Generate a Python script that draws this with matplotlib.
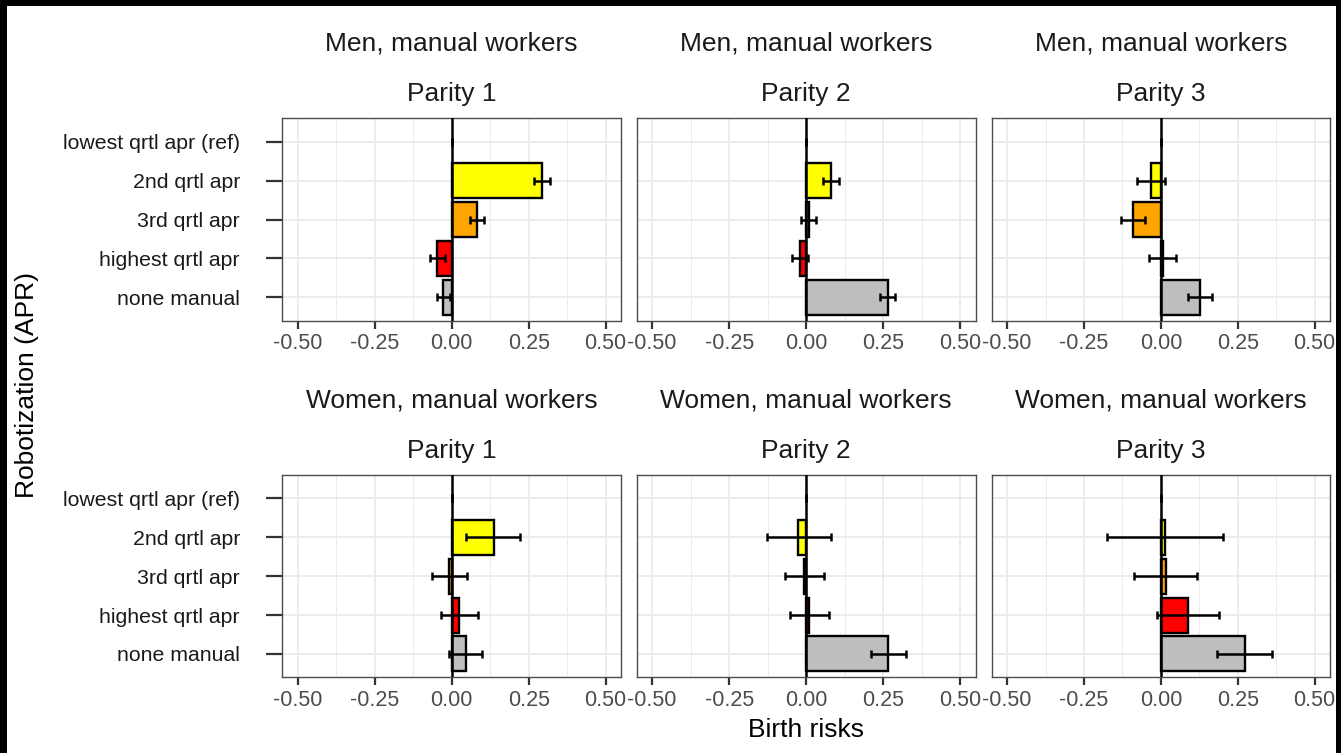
import numpy as np
import matplotlib
matplotlib.use("Agg")
import matplotlib.pyplot as plt
from matplotlib.patches import Rectangle
from matplotlib.ticker import FixedLocator

plt.rcParams["font.family"] = ["Liberation Sans", "DejaVu Sans"]

# categories, top to bottom
categories = ["lowest qrtl apr (ref)", "2nd qrtl apr", "3rd qrtl apr",
              "highest qrtl apr", "none manual"]
bar_colors = ["#FFFFFF", "#FFFF00", "#FFA500", "#FF0000", "#BEBEBE"]

row_titles = ["Men, manual workers", "Women, manual workers"]
parities = ["Parity 1", "Parity 2", "Parity 3"]

# estimates and confidence bounds, one list per parity
men_est = [[0, 0.295, 0.082, -0.048, -0.028],
           [0, 0.080, 0.010, -0.021, 0.266],
           [0, -0.033, -0.092, 0.007, 0.128]]
men_lo = [[0, 0.267, 0.059, -0.069, -0.047],
          [0, 0.053, -0.017, -0.046, 0.238],
          [0, -0.077, -0.128, -0.037, 0.088]]
men_hi = [[0, 0.320, 0.105, -0.022, -0.004],
          [0, 0.107, 0.033, 0.006, 0.289],
          [0, 0.015, -0.050, 0.048, 0.166]]

women_est = [[0, 0.136, -0.009, 0.025, 0.045],
             [0, -0.026, -0.006, 0.010, 0.267],
             [0, 0.015, 0.016, 0.089, 0.274]]
women_lo = [[0, 0.046, -0.065, -0.033, -0.009],
            [0, -0.128, -0.068, -0.053, 0.209],
            [0, -0.176, -0.087, -0.011, 0.181]]
women_hi = [[0, 0.221, 0.051, 0.085, 0.097],
            [0, 0.080, 0.058, 0.073, 0.323],
            [0, 0.203, 0.117, 0.190, 0.363]]

xticks = [-0.50, -0.25, 0.00, 0.25, 0.50]
xtick_labels = ["-0.50", "-0.25", "0.00", "0.25", "0.50"]

W, H = 1341, 753
fig = plt.figure(figsize=(W / 100, H / 100), dpi=100)
fig.patch.set_facecolor("black")
fig.add_artist(Rectangle((7 / W, 0), (1336 - 7) / W, 1 - 6 / H,
                         transform=fig.transFigure, facecolor="white",
                         edgecolor="none", zorder=-10))

col_x = [(282.3, 621.0), (636.7, 975.7), (991.7, 1330.0)]
row_y = [(118.3, 320.7), (475.0, 677.3)]

ypos = np.arange(len(categories))[::-1] + 1

data = [(men_est, men_lo, men_hi), (women_est, women_lo, women_hi)]

for r, (est_rows, lo_rows, hi_rows) in enumerate(data):
    top, bottom = row_y[r]
    for c in range(3):
        left, right = col_x[c]
        ax = fig.add_axes([left / W, 1 - bottom / H, (right - left) / W, (bottom - top) / H])
        est = np.array(est_rows[c])
        lo = np.array(lo_rows[c])
        hi = np.array(hi_rows[c])

        # the reference category has no bar outline
        edge_w = [0 if v == 0 else 1.7 for v in est]
        ax.barh(ypos, est, height=0.9, color=bar_colors, edgecolor="black",
                linewidth=edge_w, zorder=3)
        ax.errorbar(est, ypos, xerr=[est - lo, hi - est], fmt="none",
                    ecolor="black", elinewidth=1.8, capsize=2.8,
                    capthick=1.8, zorder=4)
        ax.axvline(0, color="black", linewidth=1.8, zorder=5)

        ax.set_xlim(-0.55, 0.55)
        ax.set_ylim(0.4, 5.6)
        ax.set_xticks(xticks)
        ax.set_xticklabels(xtick_labels)
        ax.xaxis.set_minor_locator(FixedLocator([-0.375, -0.125, 0.125, 0.375]))
        ax.set_yticks(ypos)
        ax.grid(True, which="major", color="#EBEBEB", linewidth=1.3, zorder=0)
        ax.grid(True, which="minor", axis="x", color="#EBEBEB", linewidth=0.7, zorder=0)
        ax.set_axisbelow(True)
        ax.tick_params(axis="x", which="major", length=6, width=1.6,
                       color="#333333", labelsize=15.5, labelcolor="#4D4D4D", pad=3)
        ax.tick_params(axis="x", which="minor", length=0)
        if c == 0:
            ax.set_yticklabels(categories)
            ax.tick_params(axis="y", length=11.5, width=1.6, color="#333333",
                           labelsize=15.3, labelcolor="#1A1A1A", pad=19)
        else:
            ax.set_yticklabels([])
            ax.tick_params(axis="y", length=0)
        for s in ax.spines.values():
            s.set_color("#4D4D4D")
            s.set_linewidth(1.0)

        cx = (left + right) / 2 / W
        fig.text(cx, 1 - (top - 67.6) / H, row_titles[r], ha="center",
                 va="baseline", fontsize=19, color="#1A1A1A")
        fig.text(cx, 1 - (top - 16.8) / H, parities[c], ha="center",
                 va="baseline", fontsize=19, color="#1A1A1A")

fig.text(806 / W, 1 - 737 / H, "Birth risks", ha="center", va="baseline",
         fontsize=19, color="black")
fig.text(27 / W, 1 - 385 / H, "Robotization (APR)", ha="center", va="center",
         rotation=90, fontsize=19, color="black")

fig.savefig("out.png", dpi=100, facecolor=fig.get_facecolor())
